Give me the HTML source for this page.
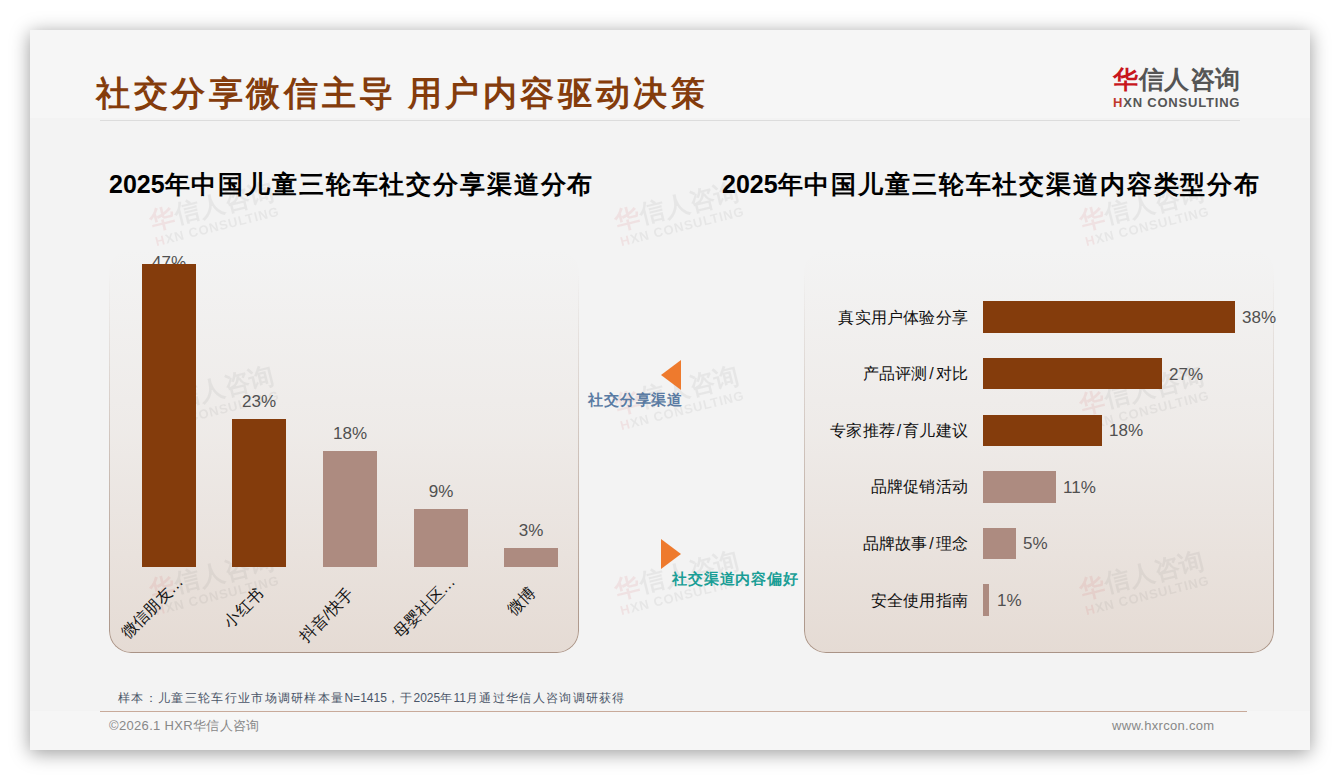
<!DOCTYPE html>
<html><head><meta charset="utf-8">
<style>
*{margin:0;padding:0;box-sizing:border-box;}
html,body{width:1340px;height:780px;background:#fff;overflow:hidden;font-family:"Liberation Sans",sans-serif;}
.slide{position:absolute;left:30px;top:30px;width:1280px;height:720px;background:#f3f3f3;box-shadow:0 3px 18px rgba(0,0,0,0.4);overflow:hidden;}
.hdr{position:absolute;left:0;top:0;width:1280px;height:88px;background:#f6f6f6;}
.ftr{position:absolute;left:0;top:681px;width:1280px;height:39px;background:#f6f6f6;}
.abs{position:absolute;white-space:nowrap;}
.title{left:66px;top:41px;font-size:34px;font-weight:bold;color:#843c0c;letter-spacing:3.6px;}
.hline{left:70px;top:90px;width:1140px;height:1px;background:#dcdcdc;}
.logo{left:1083px;top:32.5px;}
.logo .cn{font-size:25px;font-weight:bold;color:#555;letter-spacing:0.5px;}
.logo .cn b{color:#c8161d;}
.logo .en{font-size:13px;font-weight:bold;color:#555;letter-spacing:0.8px;margin-top:-1px;}
.logo .en b{color:#c0392b;}
.ct{font-size:25px;font-weight:bold;color:#000;letter-spacing:1.85px;}
.ct i{font-style:normal;letter-spacing:0;}
.box{position:absolute;border-radius:22px;
 background:linear-gradient(to bottom,rgba(229,219,212,0) 0%,rgba(229,219,212,0.35) 45%,rgba(229,219,212,1) 100%);}
.box::before{content:"";position:absolute;inset:0;border-radius:22px;padding:1px;
 background:linear-gradient(to bottom,rgba(170,148,135,0) 0%,rgba(170,148,135,0) 6%,rgba(170,148,135,0.35) 40%,rgba(170,148,135,1) 100%);
 -webkit-mask:linear-gradient(#000 0 0) content-box,linear-gradient(#000 0 0);-webkit-mask-composite:xor;mask-composite:exclude;}
.bar{position:absolute;}
.d{background:#843c0c;}
.l{background:#ad8b80;}
.dl{position:absolute;font-size:17px;color:#505050;text-align:center;width:80px;}
.cat{position:absolute;font-size:16px;color:#111;transform-origin:100% 50%;transform:rotate(-45deg);text-align:right;}
.rl{position:absolute;font-size:16px;color:#111;text-align:right;width:200px;letter-spacing:0.2px;}
.rl i{font-style:normal;margin:0 1.75px;}
.rv{position:absolute;font-size:17px;color:#505050;}
.src{font-size:12px;color:#4a5568;letter-spacing:1.32px;}
.src i{font-style:normal;letter-spacing:0;}
.wm{position:absolute;width:130px;height:42px;opacity:0.075;transform:rotate(-14deg);white-space:nowrap;}
.wm .cn{font-size:25px;font-weight:bold;color:#555;letter-spacing:0.5px;line-height:29px;}
.wm .cn b,.wm .en b{color:#c8161d;}
.wm .en{font-size:13px;font-weight:bold;color:#555;letter-spacing:0.8px;line-height:14px;}
</style></head><body>
<div class="slide">
  <div class="hdr"></div>
  <div class="ftr"></div>
  <div class="abs title">社交分享微信主导<span style="letter-spacing:1.3px"> </span>用户内容驱动决策</div>
  <div class="abs hline"></div>
  <div class="abs logo"><div class="cn"><b>华</b>信人咨询</div><div class="en"><b>H</b>XN CONSULTING</div></div>


  <!-- left box -->
  <div class="box" style="left:79px;top:220px;width:470px;height:403px;"></div>
  <!-- right box -->
  <div class="box" style="left:774px;top:220px;width:470px;height:403px;"></div>

  <div class="wm" style="left:120.0px;top:160.5px;"><div class="cn"><b>华</b>信人咨询</div><div class="en"><b>H</b>XN CONSULTING</div></div>
  <div class="wm" style="left:585.0px;top:160.5px;"><div class="cn"><b>华</b>信人咨询</div><div class="en"><b>H</b>XN CONSULTING</div></div>
  <div class="wm" style="left:1050.0px;top:160.5px;"><div class="cn"><b>华</b>信人咨询</div><div class="en"><b>H</b>XN CONSULTING</div></div>
  <div class="wm" style="left:120.0px;top:345.0px;"><div class="cn"><b>华</b>信人咨询</div><div class="en"><b>H</b>XN CONSULTING</div></div>
  <div class="wm" style="left:585.0px;top:345.0px;"><div class="cn"><b>华</b>信人咨询</div><div class="en"><b>H</b>XN CONSULTING</div></div>
  <div class="wm" style="left:1050.0px;top:345.0px;"><div class="cn"><b>华</b>信人咨询</div><div class="en"><b>H</b>XN CONSULTING</div></div>
  <div class="wm" style="left:120.0px;top:530.0px;"><div class="cn"><b>华</b>信人咨询</div><div class="en"><b>H</b>XN CONSULTING</div></div>
  <div class="wm" style="left:585.0px;top:530.0px;"><div class="cn"><b>华</b>信人咨询</div><div class="en"><b>H</b>XN CONSULTING</div></div>
  <div class="wm" style="left:1050.0px;top:530.0px;"><div class="cn"><b>华</b>信人咨询</div><div class="en"><b>H</b>XN CONSULTING</div></div>
  <div class="abs ct" style="left:79px;top:137.5px;"><i>2025</i>年中国儿童三轮车社交分享渠道分布</div>
  <div class="abs ct" style="left:692px;top:137.5px;"><i>2025</i>年中国儿童三轮车社交渠道内容类型分布</div>
  <!-- left bars -->
  <div class="dl" style="left:99px;top:223.0px;">47%</div>
  <div class="bar d" style="left:112px;top:234px;width:54px;height:303px;"></div>
  <div class="bar d" style="left:202px;top:389px;width:54px;height:148px;"></div>
  <div class="bar l" style="left:293px;top:421px;width:54px;height:116px;"></div>
  <div class="bar l" style="left:384px;top:479px;width:54px;height:58px;"></div>
  <div class="bar l" style="left:474px;top:518px;width:54px;height:19px;"></div>

  <div class="dl" style="left:189px;top:362.0px;">23%</div>
  <div class="dl" style="left:280px;top:394.0px;">18%</div>
  <div class="dl" style="left:371px;top:452.0px;">9%</div>
  <div class="dl" style="left:461px;top:491.0px;">3%</div>

  <div class="cat" style="right:1129px;top:538.5px;">微信朋友…</div>
  <div class="cat" style="right:1049px;top:550.5px;">小红书</div>
  <div class="cat" style="right:959px;top:550.5px;">抖音/快手</div>
  <div class="cat" style="right:857.5px;top:538.5px;">母婴社区…</div>
  <div class="cat" style="right:777px;top:550px;">微博</div>

  <!-- middle arrows -->
  <svg class="abs" style="left:631px;top:330px;" width="20" height="30"><polygon points="20,0 20,30 0,15" fill="#ee7a2d"/></svg>
  <div class="abs" style="left:558px;top:360.5px;font-size:15px;font-weight:bold;color:#5a7ba3;letter-spacing:0.85px;">社交分享渠道</div>
  <svg class="abs" style="left:631px;top:509px;" width="20" height="30"><polygon points="0,0 20,15 0,30" fill="#ee7a2d"/></svg>
  <div class="abs" style="left:642px;top:539.5px;font-size:15px;font-weight:bold;color:#1a9e96;letter-spacing:0.85px;">社交渠道内容偏好</div>

  <!-- right bars -->
  <div class="bar d" style="left:953px;top:271.3px;width:252px;height:31.5px;"></div>
  <div class="bar d" style="left:953px;top:327.9px;width:179px;height:31.5px;"></div>
  <div class="bar d" style="left:953px;top:384.5px;width:119px;height:31.5px;"></div>
  <div class="bar l" style="left:953px;top:441.1px;width:73px;height:31.5px;"></div>
  <div class="bar l" style="left:953px;top:497.7px;width:33px;height:31.5px;"></div>
  <div class="bar l" style="left:953px;top:554.3px;width:5.6px;height:31.5px;"></div>

  <div class="rl" style="left:738px;top:277.5px;">真实用户体验分享</div>
  <div class="rl" style="left:738px;top:334.1px;">产品评测<i>/</i>对比</div>
  <div class="rl" style="left:738px;top:390.7px;">专家推荐<i>/</i>育儿建议</div>
  <div class="rl" style="left:738px;top:447.3px;">品牌促销活动</div>
  <div class="rl" style="left:738px;top:503.9px;">品牌故事<i>/</i>理念</div>
  <div class="rl" style="left:738px;top:560.5px;">安全使用指南</div>

  <div class="rv" style="left:1212px;top:278.0px;">38%</div>
  <div class="rv" style="left:1139px;top:334.6px;">27%</div>
  <div class="rv" style="left:1079px;top:391.2px;">18%</div>
  <div class="rv" style="left:1033px;top:447.8px;">11%</div>
  <div class="rv" style="left:993px;top:504.4px;">5%</div>
  <div class="rv" style="left:967px;top:561.0px;">1%</div>

  <!-- footer -->
  <div class="abs src" style="left:88px;top:660px;">样本：儿童三轮车行业市场调研样本量<i>N=1415</i>，于<i>2025</i>年<i>11</i>月通过华信人咨询调研获得</div>
  <div class="abs" style="left:70px;top:681px;width:1147px;height:1px;background:#c8aa9a;"></div>
  <div class="abs" style="left:79px;top:687px;font-size:13px;color:#888;letter-spacing:0.33px;">©2026.1 HXR华信人咨询</div>
  <div class="abs" style="left:1082px;top:688px;font-size:13px;color:#888;letter-spacing:0.3px;">www.hxrcon.com</div>
</div>
</body></html>
